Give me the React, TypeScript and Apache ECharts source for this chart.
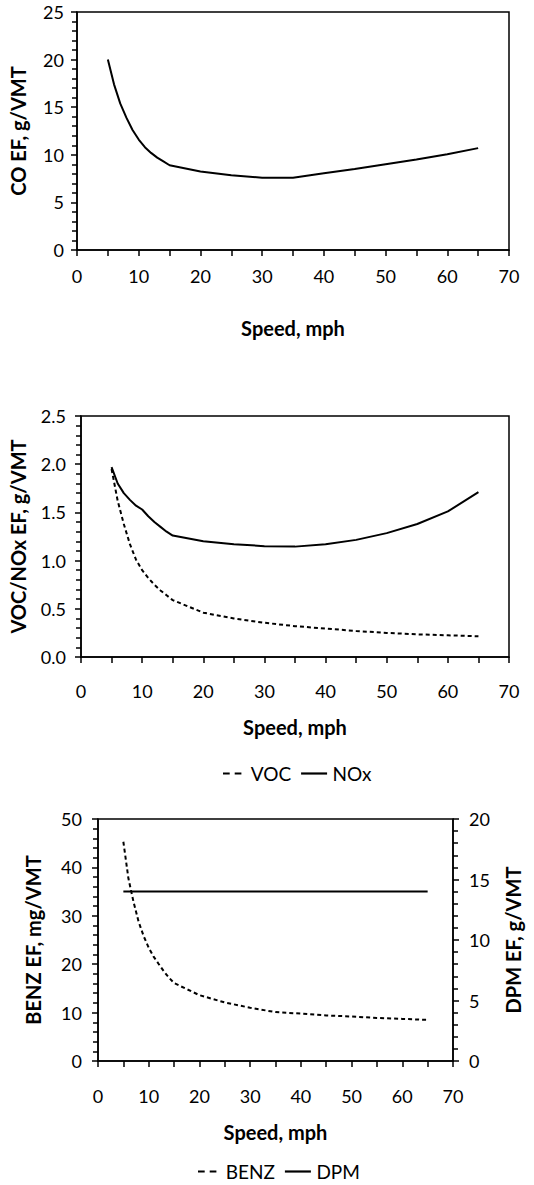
import React, { useEffect, useRef } from "react";
import * as echarts from "echarts";

const speeds = [5, 6, 7, 8, 9, 10, 11, 12, 13, 14, 15, 20, 25, 30, 35, 40, 45, 50, 55, 60, 65];
const coValues = [20.0, 17.4, 15.4, 13.9, 12.6, 11.6, 10.8, 10.2, 9.7, 9.3, 8.9, 8.25, 7.85, 7.6, 7.6, 8.05, 8.5, 9.0, 9.5, 10.05, 10.7];
const vocValues = [1.95, 1.62, 1.38, 1.17, 1.01, 0.9, 0.82, 0.75, 0.69, 0.64, 0.59, 0.46, 0.4, 0.355, 0.32, 0.295, 0.27, 0.25, 0.235, 0.225, 0.215];
const noxValues = [1.97, 1.8, 1.7, 1.63, 1.57, 1.53, 1.46, 1.4, 1.35, 1.3, 1.26, 1.2, 1.17, 1.15, 1.145, 1.17, 1.215, 1.285, 1.38, 1.51, 1.71];
const benzValues = [45.3, 37.7, 32.9, 28.8, 25.8, 23.4, 21.5, 20.0, 18.5, 17.2, 16.1, 13.6, 12.1, 11.0, 10.1, 9.8, 9.4, 9.2, 8.9, 8.7, 8.5];
const dpmValues = [14, 14, 14, 14, 14, 14, 14, 14, 14, 14, 14, 14, 14, 14, 14, 14, 14, 14, 14, 14, 14];

const xTitle = "Speed, mph";
const yTitles = ["CO EF, g/VMT", "VOC/NOx EF, g/VMT", "BENZ EF, mg/VMT", "DPM EF, g/VMT"];
const legend1 = ["VOC", "NOx"];
const legend2 = ["BENZ", "DPM"];

const FONT = "Lato";
const pair = (vals: number[]) => speeds.map((s, i) => [s, vals[i]]);
const DASH_ICON = "path://M0,0h6.7v2.2h-6.7z M11.7,0h6.7v2.2h-6.7z";
const SOLID_ICON = "path://M0,0h26v2.2h-26z";

export default function App() {
  const ref = useRef<HTMLDivElement>(null);
  useEffect(() => {
    if (!ref.current) return;
    const chart = echarts.init(ref.current, null, { renderer: "svg" });
    const black = "#000";
    const lineW = 1.5;
    const tickStyle = { color: black, width: lineW };
    const xAxis = (gridIndex: number, labelMargin: number, nameGap: number) => ({
      type: "value",
      gridIndex,
      min: 0,
      max: 70,
      interval: 10,
      axisLine: { show: true, lineStyle: tickStyle },
      axisTick: { show: true, length: 6, lineStyle: tickStyle },
      minorTick: { show: true, splitNumber: 2, length: 6, lineStyle: tickStyle },
      splitLine: { show: false },
      axisLabel: { color: black, fontSize: 18, fontFamily: FONT, margin: labelMargin },
      name: xTitle,
      nameLocation: "middle",
      nameGap,
      nameTextStyle: { color: black, fontSize: 20, fontWeight: "bold", fontFamily: FONT },
    });
    const yAxis = (
      gridIndex: number,
      max: number,
      interval: number,
      name: string,
      nameGap: number,
      labelMargin: number,
      position: string,
      decimals: number
    ) => ({
      type: "value",
      gridIndex,
      position,
      min: 0,
      max,
      interval,
      axisLine: { show: true, lineStyle: tickStyle },
      axisTick: { show: true, length: 6, lineStyle: tickStyle },
      minorTick: { show: true, splitNumber: 5, length: 5, lineStyle: tickStyle },
      splitLine: { show: false },
      axisLabel: {
        color: black,
        fontSize: 18,
        fontFamily: FONT,
        margin: labelMargin,
        formatter: (v: number) => v.toFixed(decimals),
      },
      name,
      nameLocation: "middle",
      nameGap,
      nameRotate: 90,
      nameTextStyle: { color: black, fontSize: 20, fontWeight: "bold", fontFamily: FONT },
    });
    const gridBase = { show: true, borderColor: black, borderWidth: lineW, backgroundColor: "transparent" };
    const solid = { color: black, width: 2, type: "solid" };
    const dashed = { color: black, width: 2, type: [4, 3] };
    const legendBase = {
      orient: "horizontal",
      padding: 0,
      itemWidth: 27,
      itemHeight: 2.2,
      itemGap: 10,
      textStyle: { color: black, fontSize: 19, fontFamily: FONT },
    };

    chart.setOption({
      animation: false,
      textStyle: { fontFamily: FONT },
      grid: [
        { ...gridBase, left: 73, width: 436, top: 12, height: 238 },
        { ...gridBase, left: 78, width: 431, top: 416, height: 241 },
        { ...gridBase, left: 98, width: 355, top: 819, height: 242 },
      ],
      xAxis: [xAxis(0, 17, 68), xAxis(1, 25, 60), xAxis(2, 26, 61)],
      yAxis: [
        yAxis(0, 25, 5, yTitles[0], 49, 13, "left", 0),
        yAxis(1, 2.5, 0.5, yTitles[1], 53, 15, "left", 1),
        yAxis(2, 50, 10, yTitles[2], 55, 16, "left", 0),
        yAxis(2, 20, 5, yTitles[3], 50, 16, "right", 0),
      ],
      legend: [
        {
          ...legendBase,
          data: [
            { name: legend1[0], icon: DASH_ICON },
            { name: legend1[1], icon: SOLID_ICON },
          ],
          left: 223,
          top: 764,
        },
        {
          ...legendBase,
          data: [
            { name: legend2[0], icon: DASH_ICON },
            { name: legend2[1], icon: SOLID_ICON },
          ],
          left: 198,
          top: 1162,
        },
      ],
      series: [
        { name: "CO", type: "line", xAxisIndex: 0, yAxisIndex: 0, data: pair(coValues), symbol: "none", lineStyle: solid, itemStyle: { color: black } },
        { name: "VOC", type: "line", xAxisIndex: 1, yAxisIndex: 1, data: pair(vocValues), symbol: "none", lineStyle: dashed, itemStyle: { color: black } },
        { name: "NOx", type: "line", xAxisIndex: 1, yAxisIndex: 1, data: pair(noxValues), symbol: "none", lineStyle: solid, itemStyle: { color: black } },
        { name: "BENZ", type: "line", xAxisIndex: 2, yAxisIndex: 2, data: pair(benzValues), symbol: "none", lineStyle: dashed, itemStyle: { color: black } },
        { name: "DPM", type: "line", xAxisIndex: 2, yAxisIndex: 3, data: pair(dpmValues), symbol: "none", lineStyle: solid, itemStyle: { color: black } },
      ],
    });
    return () => chart.dispose();
  }, []);
  return (
    <div
      ref={ref}
      style={{ position: "absolute", left: 0, top: 0, width: 534, height: 1185, background: "#fff" }}
    />
  );
}
